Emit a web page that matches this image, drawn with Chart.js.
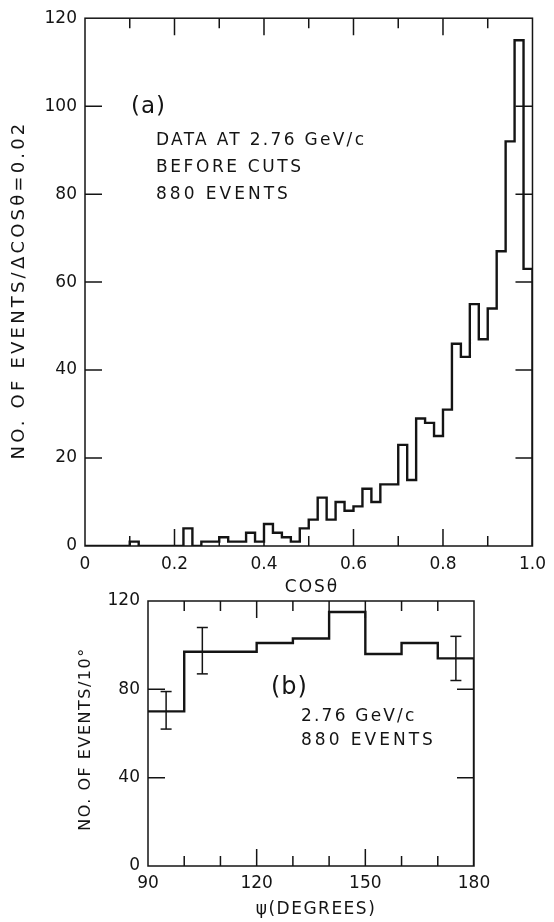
<!DOCTYPE html>
<html>
<head>
<meta charset="utf-8">
<script src="https://cdn.jsdelivr.net/npm/chart.js@4.4.1/dist/chart.umd.min.js"></script>
<style>
  html, body { margin:0; padding:0; background:#fff; }
  body { width:554px; height:922px; position:relative; overflow:hidden; }
  canvas { position:absolute; left:0; }
  #c1 { top:0; }
  #c2 { top:580px; }
</style>
</head>
<body>
<canvas id="c1" width="554" height="600"></canvas>
<canvas id="c2" width="554" height="342"></canvas>
<script>
// ---------- DATA (a): cos(theta) histogram, bins of 0.02 ----------
const cosBinStart = [0.00,0.02,0.04,0.06,0.08,0.10,0.12,0.14,0.16,0.18,
                     0.20,0.22,0.24,0.26,0.28,0.30,0.32,0.34,0.36,0.38,
                     0.40,0.42,0.44,0.46,0.48,0.50,0.52,0.54,0.56,0.58,
                     0.60,0.62,0.64,0.66,0.68,0.70,0.72,0.74,0.76,0.78,
                     0.80,0.82,0.84,0.86,0.88,0.90,0.92,0.94,0.96,0.98];
const cosCounts   = [0,0,0,0,0,1,0,0,0,0,
                     0,4,0,1,1,2,1,1,3,1,
                     5,3,2,1,4,6,11,6,10,8,
                     9,13,10,14,14,23,15,29,28,25,
                     31,46,43,55,47,54,67,92,115,63];
const cosBinEnd = 1.0;
const cosTickLabels = ['0','0.2','0.4','0.6','0.8','1.0'];
const countTickLabelsA = ['0','20','40','60','80','100','120'];

// ---------- DATA (b): psi histogram, bins of 10 degrees ----------
const psiBinStart = [90,100,110,120,130,140,150,160,170];
const psiCounts   = [70,97,97,101,103,115,96,101,94];
const psiBinEnd = 180;
const psiErrX    = [95,105,175];
const psiErrLow  = [62,87,84];
const psiErrHigh = [79,108,104];
const psiTickLabels = ['90','120','150','180'];
const countTickLabelsB = ['0','40','80','120'];

const FONT = "'DejaVu Sans', 'Liberation Sans', sans-serif";
const INK = '#141414';
Chart.defaults.font.family = FONT;
Chart.defaults.color = INK;

function histPoints(starts, counts, end){
  const pts = starts.map((x,i)=>({x:x, y:counts[i]}));
  pts.push({x:end, y:counts[counts.length-1]});
  pts.push({x:end, y:0});
  return pts;
}

// frame + inward ticks + free text (config kept in closure)
function makeFramePlugin(cfg){
  return {
    id:'frameTicks',
    afterDraw(chart){
      const ctx = chart.ctx, a = chart.chartArea;
      const xs = chart.scales.x, ys = chart.scales.y;
      ctx.save();
      ctx.strokeStyle = INK;
      ctx.lineWidth = 1.5;
      ctx.lineCap = 'butt';
      ctx.strokeRect(a.left, a.top, a.right-a.left, a.bottom-a.top);
      ctx.beginPath();
      cfg.xMajor.forEach(v=>{
        const p = xs.getPixelForValue(v);
        ctx.moveTo(p, a.bottom); ctx.lineTo(p, a.bottom-cfg.longLen);
        ctx.moveTo(p, a.top); ctx.lineTo(p, a.top+cfg.longLen);
      });
      cfg.xMinor.forEach(v=>{
        const p = xs.getPixelForValue(v);
        ctx.moveTo(p, a.bottom); ctx.lineTo(p, a.bottom-cfg.shortLen);
        ctx.moveTo(p, a.top); ctx.lineTo(p, a.top+cfg.shortLen);
      });
      cfg.yMajor.forEach(v=>{
        const p = ys.getPixelForValue(v);
        ctx.moveTo(a.left, p); ctx.lineTo(a.left+cfg.longLen, p);
        ctx.moveTo(a.right, p); ctx.lineTo(a.right-cfg.longLen, p);
      });
      ctx.stroke();
      ctx.fillStyle = INK;
      ctx.textBaseline = 'middle';
      cfg.texts.forEach(t=>{
        ctx.save();
        ctx.font = t.size + 'px ' + FONT;
        ctx.letterSpacing = (t.ls||0) + 'px';
        ctx.textAlign = t.align || 'left';
        ctx.translate(t.x, t.y);
        if (t.rot) ctx.rotate(t.rot);
        ctx.fillText(t.text, 0, 0);
        ctx.restore();
      });
      ctx.restore();
    }
  };
}

// ---------- Chart (a) ----------
new Chart(document.getElementById('c1'), {
  type:'line',
  data:{ datasets:[{
    data: histPoints(cosBinStart, cosCounts, cosBinEnd),
    stepped: 'before',
    borderColor: INK, borderWidth: 2.4,
    pointRadius: 0, fill:false, tension:0,
    borderJoinStyle:'miter', borderCapStyle:'butt'
  }]},
  options:{
    responsive:false, animation:false, devicePixelRatio:1,
    layout:{ padding:{ top:15, right:15, left:0, bottom:0 } },
    plugins:{ legend:{display:false}, tooltip:{enabled:false} },
    scales:{
      x:{ type:'linear', min:0, max:1,
          grid:{display:false, drawTicks:false}, border:{display:false},
          afterFit(s){ s.height = 54; },
          ticks:{ stepSize:0.2, autoSkip:false, maxRotation:0, padding:8,
                  font:{size:17},
                  callback:(v,i)=>cosTickLabels[i] } },
      y:{ type:'linear', min:0, max:120,
          grid:{display:false, drawTicks:false}, border:{display:false},
          afterFit(s){ s.width = 85; },
          ticks:{ stepSize:20, autoSkip:false, padding:8, font:{size:17},
                  callback:(v,i)=>countTickLabelsA[i] } }
    }
  },
  plugins:[makeFramePlugin({
    longLen:17, shortLen:10,
    xMajor:[0.2,0.4,0.6,0.8], xMinor:[0.1,0.3,0.5,0.7,0.9],
    yMajor:[20,40,60,80,100],
    texts:[
      {text:'(a)', x:131, y:107, size:23, ls:1},
      {text:'DATA AT 2.76 GeV/c', x:156, y:141, size:17, ls:2.3},
      {text:'BEFORE CUTS', x:156, y:168, size:17, ls:2.6},
      {text:'880 EVENTS', x:156, y:195, size:17, ls:3},
      {text:'COSθ', x:312, y:588, size:17, ls:2, align:'center'},
      {text:'NO. OF EVENTS/ΔCOSθ=0.02', x:19, y:290, size:18, ls:3.2, align:'center', rot:-Math.PI/2}
    ]
  })]
});

// ---------- Chart (b) ----------
const errSets = psiErrX.map((x,i)=>({
  data:[{x:x, y:psiErrLow[i]},{x:x, y:psiErrHigh[i]}],
  borderColor:INK, borderWidth:1.5,
  pointStyle:'line', pointRadius:5.5, pointBorderWidth:1.5,
  pointBorderColor:INK, fill:false, tension:0
}));

new Chart(document.getElementById('c2'), {
  type:'line',
  data:{ datasets:[{
    data: histPoints(psiBinStart, psiCounts, psiBinEnd),
    stepped:'before',
    borderColor: INK, borderWidth: 2.4,
    pointRadius: 0, fill:false, tension:0,
    borderJoinStyle:'miter', borderCapStyle:'butt'
  }].concat(errSets)},
  options:{
    responsive:false, animation:false, devicePixelRatio:1,
    layout:{ padding:{ top:21, right:80, left:0, bottom:0 } },
    plugins:{ legend:{display:false}, tooltip:{enabled:false} },
    scales:{
      x:{ type:'linear', min:90, max:180,
          grid:{display:false, drawTicks:false}, border:{display:false},
          afterFit(s){ s.height = 56; },
          ticks:{ stepSize:30, autoSkip:false, maxRotation:0, padding:7,
                  font:{size:17},
                  callback:(v,i)=>psiTickLabels[i] } },
      y:{ type:'linear', min:0, max:120,
          grid:{display:false, drawTicks:false}, border:{display:false},
          afterFit(s){ s.width = 148; },
          ticks:{ stepSize:40, autoSkip:false, padding:8, font:{size:17},
                  callback:(v,i)=>countTickLabelsB[i] } }
    }
  },
  plugins:[makeFramePlugin({
    longLen:17, shortLen:10,
    xMajor:[120,150], xMinor:[100,110,130,140,160,170],
    yMajor:[40,80],
    texts:[
      {text:'(b)', x:271, y:108, size:24, ls:1},
      {text:'2.76 GeV/c', x:301, y:137, size:17, ls:2.2},
      {text:'880 EVENTS', x:301, y:161, size:17, ls:3},
      {text:'ψ(DEGREES)', x:316, y:330, size:17, ls:1.5, align:'center'},
      {text:'NO. OF EVENTS/10°', x:86, y:159, size:16, ls:1.5, align:'center', rot:-Math.PI/2}
    ]
  })]
});
</script>
</body>
</html>
